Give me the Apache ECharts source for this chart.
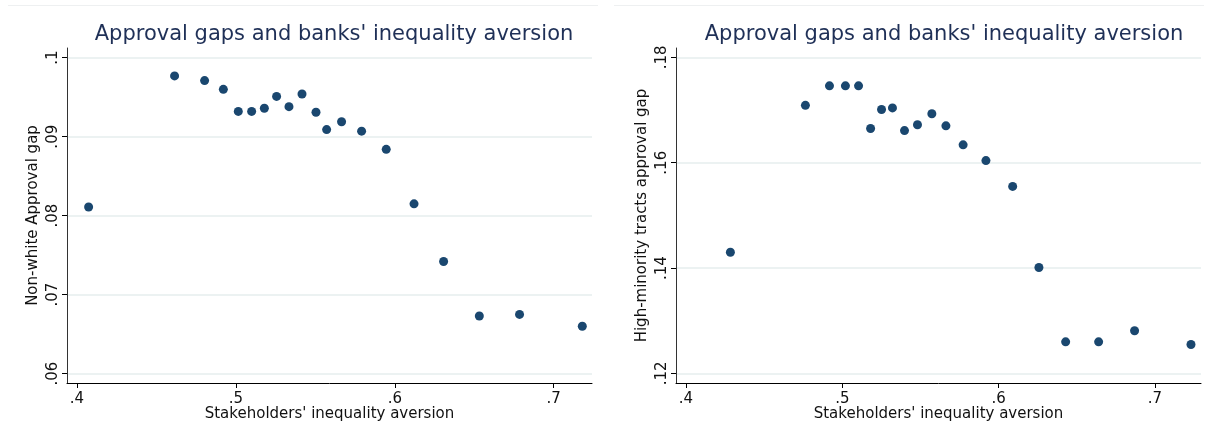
<!DOCTYPE html>
<html>
<head>
<meta charset="utf-8">
<script src="https://cdn.jsdelivr.net/npm/echarts@6/dist/echarts.min.js"></script>
<style>
html,body{margin:0;padding:0;background:#fff;}
#c{width:1207px;height:423px;}
</style>
</head>
<body>
<div id="c"></div>
<script>
// ---- data ----
var titleText = "Approval gaps and banks' inequality aversion";
var xName = "Stakeholders' inequality aversion";
var yNameLeft = "Non-white Approval gap";
var yNameRight = "High-minority tracts approval gap";

var xTicks = [0.4, 0.5, 0.6, 0.7];
var yTicksLeft = [0.06, 0.07, 0.08, 0.09, 0.1];
var yTicksRight = [0.12, 0.14, 0.16, 0.18];

var xNonWhite = [0.4073, 0.4614, 0.4803, 0.4921, 0.5015, 0.5099, 0.5179, 0.5256, 0.5334, 0.5416, 0.5504, 0.5571, 0.5665, 0.5791, 0.5946, 0.6121, 0.6307, 0.6532, 0.6785, 0.7180];
var yNonWhite = [0.0811, 0.0977, 0.0971, 0.0960, 0.0932, 0.0932, 0.0936, 0.0951, 0.0938, 0.0954, 0.0931, 0.0909, 0.0919, 0.0907, 0.0884, 0.0815, 0.0742, 0.0673, 0.0675, 0.0660];

var xMinority = [0.4284, 0.4764, 0.4918, 0.5020, 0.5104, 0.5181, 0.5251, 0.5321, 0.5398, 0.5481, 0.5573, 0.5663, 0.5773, 0.5919, 0.6090, 0.6258, 0.6429, 0.6640, 0.6870, 0.7231];
var yMinority = [0.1430, 0.1709, 0.1746, 0.1746, 0.1746, 0.1665, 0.1701, 0.1704, 0.1661, 0.1672, 0.1693, 0.1670, 0.1634, 0.1604, 0.1555, 0.1401, 0.1260, 0.1260, 0.1281, 0.1255];

// ---- styling ----
var FONT = 'DejaVu Sans';
var MARK = '#1a476f';
var TITLE_C = '#1f3057';
var GRID_C = '#e6eeee';

function pairs(xs, ys) { return xs.map(function (x, i) { return [x, ys[i]]; }); }
function fmt(v) { return String(+v.toFixed(4)).replace(/^0\./, '.'); }

function xAxisOpt(gi, min, max) {
  return {
    type: 'value', gridIndex: gi, min: min, max: max,
    name: xName, nameLocation: 'middle', nameGap: 24, nameMoveOverlap: false,
    nameTextStyle: { fontFamily: FONT, fontSize: 15, color: '#111' },
    axisLine: { show: true, onZero: false, lineStyle: { color: '#000', width: 1 } },
    axisTick: { show: true, inside: false, length: 5, customValues: xTicks, lineStyle: { color: '#000' } },
    axisLabel: { customValues: xTicks, formatter: fmt, margin: 9, fontFamily: FONT, fontSize: 15, color: '#111' },
    splitLine: { show: false }
  };
}
function yAxisOpt(gi, min, max, ticks, nm, gap) {
  return {
    type: 'value', gridIndex: gi, min: min, max: max,
    name: nm, nameLocation: 'middle', nameGap: gap,
    nameTextStyle: { fontFamily: FONT, fontSize: 15, color: '#111' },
    axisLine: { show: true, onZero: false, lineStyle: { color: '#333', width: 1 } },
    axisTick: { show: true, inside: false, length: 5, customValues: ticks, lineStyle: { color: '#000' } },
    axisLabel: { customValues: ticks, formatter: fmt, rotate: 90, margin: 6, fontFamily: FONT, fontSize: 15, color: '#111' },
    splitLine: { show: true, lineStyle: { color: GRID_C, width: 1.5 } }
  };
}

var chart = echarts.init(document.getElementById('c'), null, { renderer: 'canvas' });
chart.setOption({
  animation: false,
  backgroundColor: '#fff',
  title: [
    { text: titleText, left: 329, top: 19, textAlign: 'center',
      textStyle: { fontFamily: FONT, fontSize: 21, fontWeight: 'normal', color: TITLE_C } },
    { text: titleText, left: 939, top: 19, textAlign: 'center',
      textStyle: { fontFamily: FONT, fontSize: 21, fontWeight: 'normal', color: TITLE_C } }
  ],
  graphic: [
    { type: 'line', shape: { x1: 8, y1: 5.5, x2: 598, y2: 5.5 }, style: { stroke: '#eef0f1', lineWidth: 1 } },
    { type: 'line', shape: { x1: 614, y1: 5.5, x2: 1204, y2: 5.5 }, style: { stroke: '#eef0f1', lineWidth: 1 } }
  ],
  grid: [
    { left: 67, right: 615, top: 48, bottom: 40, containLabel: false, outerBoundsMode: 'none' },
    { left: 676, right: 6, top: 48, bottom: 40, containLabel: false, outerBoundsMode: 'none' }
  ],
  xAxis: [
    xAxisOpt(0, 0.3937, 0.7241),
    xAxisOpt(1, 0.3936, 0.7295)
  ],
  yAxis: [
    yAxisOpt(0, 0.05882, 0.10123, yTicksLeft, yNameLeft, 26),
    yAxisOpt(1, 0.11818, 0.18178, yTicksRight, yNameRight, 26)
  ],
  series: [
    { type: 'scatter', xAxisIndex: 0, yAxisIndex: 0, data: pairs(xNonWhite, yNonWhite),
      symbol: 'circle', symbolSize: 9, itemStyle: { color: MARK, opacity: 1 }, clip: false },
    { type: 'scatter', xAxisIndex: 1, yAxisIndex: 1, data: pairs(xMinority, yMinority),
      symbol: 'circle', symbolSize: 9, itemStyle: { color: MARK, opacity: 1 }, clip: false }
  ]
});
</script>
</body>
</html>
